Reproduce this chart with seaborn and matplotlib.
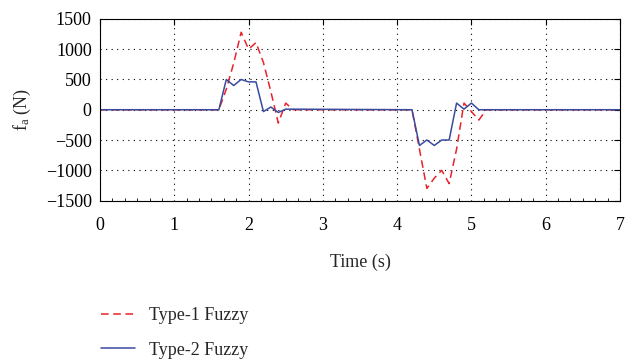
import numpy as np
import pandas as pd
import matplotlib
matplotlib.use("Agg")
import matplotlib.pyplot as plt
from matplotlib.ticker import MultipleLocator
import seaborn as sns

# Data
t_type1 = [0, 1.6, 1.7, 1.8, 1.9, 2.0, 2.1, 2.2, 2.3, 2.4, 2.5, 2.6,
           4.2, 4.3, 4.4, 4.5, 4.6, 4.7, 4.8, 4.9, 5.0, 5.1, 5.2, 7.0]
f_type1 = [0, 0, 340, 770, 1280, 1000, 1110, 780, 300, -220, 110, 0,
           0, -650, -1300, -1130, -1000, -1220, -650, 110, -30, -170, 0, 0]
t_type2 = [0, 1.6, 1.7, 1.8, 1.9, 2.0, 2.1, 2.2, 2.3, 2.4, 2.5,
           4.2, 4.3, 4.4, 4.5, 4.6, 4.7, 4.8, 4.9, 5.0, 5.1, 7.0]
f_type2 = [0, 0, 500, 400, 500, 460, 460, -30, 45, -45, 10,
           0, -590, -500, -590, -500, -500, 110, 10, 110, 0, 0]
labels = ["Type-1 Fuzzy", "Type-2 Fuzzy"]
xticks = [0, 1, 2, 3, 4, 5, 6, 7]
yticks = [-1500, -1000, -500, 0, 500, 1000, 1500]

sns.set_theme(style="white")
plt.rcParams['font.family'] = ['Liberation Serif', 'DejaVu Serif']
plt.rcParams['mathtext.fontset'] = 'custom'
plt.rcParams['mathtext.rm'] = 'Liberation Serif'
plt.rcParams['mathtext.it'] = 'Liberation Serif'

df1 = pd.DataFrame({"t": t_type1, "f": f_type1})
df2 = pd.DataFrame({"t": t_type2, "f": f_type2})

fig = plt.figure(figsize=(6.25, 3.64), dpi=100)
ax = fig.add_axes([0.16, 0.449, 0.832, 0.499])

sns.lineplot(data=df1, x="t", y="f", ax=ax, color="#e8232b", lw=1.1,
             linestyle=(0, (5, 3)), estimator=None, sort=False, label=labels[0])
sns.lineplot(data=df2, x="t", y="f", ax=ax, color="#3a4b9f", lw=1.1,
             estimator=None, sort=False, label=labels[1])

ax.set_xlim(0, 7)
ax.set_ylim(-1500, 1500)
ax.set_xticks(xticks)
ax.set_yticks(yticks)
ax.set_yticklabels([str(v).replace("-", "\u2212") for v in yticks])
ax.xaxis.set_minor_locator(MultipleLocator(1 / 6))
ax.grid(True, which="major", color="black", linestyle=(0, (1, 4)), linewidth=0.8)
for s in ax.spines.values():
    s.set_color("black")
    s.set_linewidth(0.8)
ax.tick_params(which="major", direction="in", length=4, width=0.8, top=True, right=True,
               labelsize=13, colors="black", pad=6)
ax.tick_params(axis="x", which="major", pad=12)
ax.tick_params(axis="x", which="minor", direction="in", length=2, width=0.6,
               bottom=True, top=False, colors="black")
ax.set_xlabel("Time (s)", fontsize=13, labelpad=14)
ax.set_ylabel(r"f$_\mathrm{a}$ (N)", fontsize=13, labelpad=9)

handles, labs = ax.get_legend_handles_labels()
ax.legend_.remove()
fig.legend(handles, labs, loc="upper left", bbox_to_anchor=(0.135, 0.2),
           frameon=False, fontsize=13, handlelength=1.9, labelspacing=0.95,
           handletextpad=0.8)

fig.savefig("out.png", dpi=100)
